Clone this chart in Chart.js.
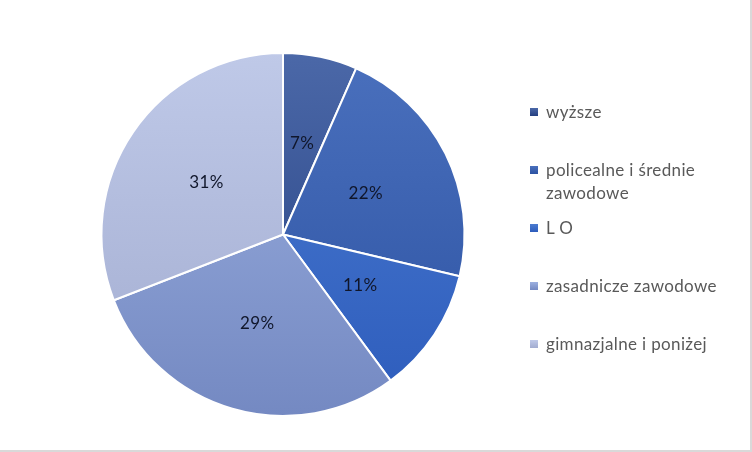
<!DOCTYPE html>
<html>
<head>
<meta charset="utf-8">
<script src="https://cdn.jsdelivr.net/npm/chart.js@4.4.0/dist/chart.umd.min.js"></script>
<style>
  html, body { margin: 0; padding: 0; background: #fff; }
  #wrap { position: relative; width: 750px; height: 450px; border-right: 2px solid #d9d9d9; border-bottom: 2px solid #d9d9d9; overflow: hidden; }
  #chart { position: absolute; left: 0; top: 0; }
  #legend { position: absolute; left: 530px; top: 100px; font-family: Lato, "Open Sans", sans-serif; font-size: 17px; letter-spacing: 0.35px; color: #595959; }
  .item { position: relative; height: 58px; padding-left: 16px; line-height: 23px; width: 200px; }
  .box { position: absolute; left: 0; top: 8px; width: 8px; height: 8px; }
</style>
</head>
<body>
<div id="wrap">
  <canvas id="chart" width="750" height="450"></canvas>
  <div id="legend"></div>
</div>
<script>
const categories = ["wyższe", "policealne i średnie zawodowe", "L O", "zasadnicze zawodowe", "gimnazjalne i poniżej"];
const shares = [6.6, 22.1, 11.2, 29.2, 30.9];
// top / bottom colour of each slice's gradient
const topColors = ["#4b68a8", "#4a70bd", "#4b7bd0", "#9cb0e0", "#bfc9e8"];
const bottomColors = ["#243f80", "#2c52a2", "#2d5cbc", "#7489c2", "#a2acd0"];

const total = shares.reduce((a, b) => a + b, 0);

function sliceFill(ctx) {
    const chart = ctx.chart;
    const area = chart.chartArea;
    if (!area) return topColors[ctx.dataIndex];
    const g = chart.ctx.createLinearGradient(0, area.top, 0, area.bottom);
    g.addColorStop(0, topColors[ctx.dataIndex]);
    g.addColorStop(1, bottomColors[ctx.dataIndex]);
    return g;
}

// percentage labels inside slices
const pctLabels = {
    id: "pctLabels",
    afterDatasetsDraw(chart) {
        const c = chart.ctx;
        const meta = chart.getDatasetMeta(0);
        c.save();
        c.font = "17px Lato, 'Open Sans', sans-serif";
        c.letterSpacing = "0.4px";
        c.fillStyle = "#10162a";
        c.textAlign = "center";
        c.textBaseline = "middle";
        meta.data.forEach((arc, i) => {
            const p = arc.getProps(["x", "y", "startAngle", "endAngle", "outerRadius"], true);
            const mid = (p.startAngle + p.endAngle) / 2;
            const r = p.outerRadius * 0.51;
            c.fillText(Math.round(shares[i] / total * 100) + "%", p.x + Math.cos(mid) * r, p.y + Math.sin(mid) * r);
        });
        c.restore();
    }
};

new Chart(document.getElementById("chart"), {
    type: "pie",
    data: {
        labels: categories,
        datasets: [{
            data: shares,
            backgroundColor: sliceFill,
            borderColor: "#ffffff",
            borderWidth: 2
        }]
    },
    options: {
        responsive: false,
        animation: false,
        layout: { padding: { left: 100, top: 52, right: 284, bottom: 33 } },
        plugins: {
            legend: { display: false },
            tooltip: { enabled: false }
        }
    },
    plugins: [pctLabels]
});

// legend
const legend = document.getElementById("legend");
categories.forEach((name, i) => {
    const item = document.createElement("div");
    item.className = "item";
    const box = document.createElement("span");
    box.className = "box";
    box.style.background = "linear-gradient(" + topColors[i] + "," + bottomColors[i] + ")";
    item.appendChild(box);
    item.appendChild(document.createTextNode(name));
    legend.appendChild(item);
});
</script>
</body>
</html>
